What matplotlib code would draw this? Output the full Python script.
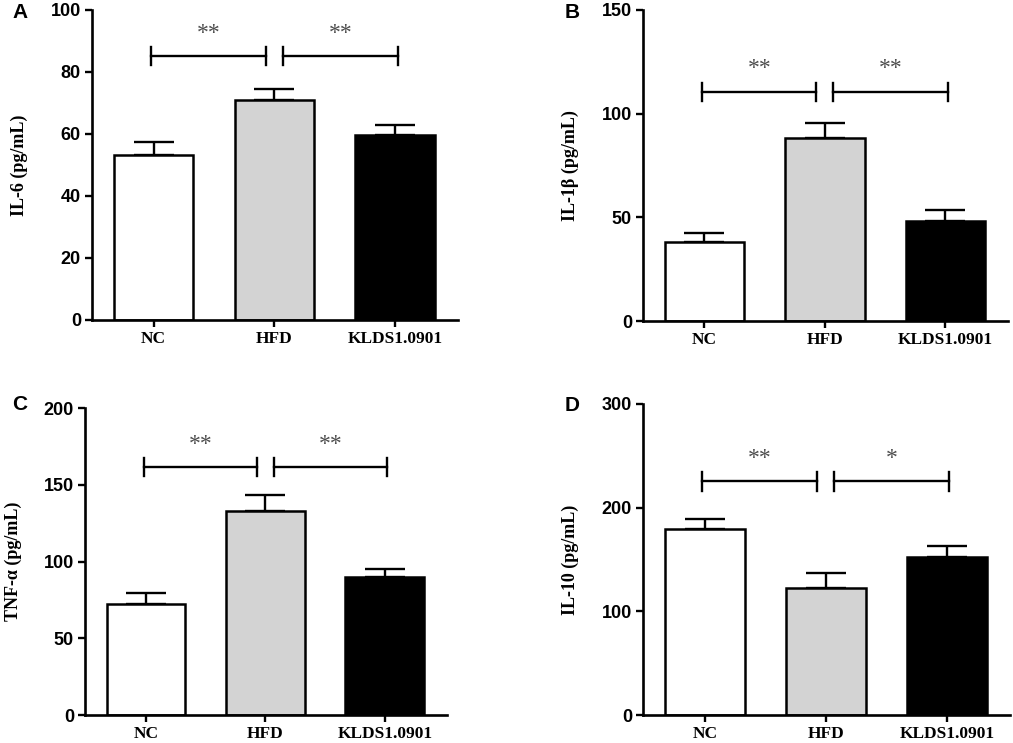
import matplotlib
matplotlib.use('Agg')
import matplotlib.pyplot as plt

# groups shared by all panels
groups = ['NC', 'HFD', 'KLDS1.0901']
bar_colors = ['white', '#d3d3d3', 'black']

# panel data: means and upper error (SEM)
il6_mean = [53.1, 71.0, 59.6]
il6_err = [4.3, 3.5, 3.3]
il1b_mean = [38.3, 88.4, 48.4]
il1b_err = [4.3, 7.3, 5.3]
tnf_mean = [72.4, 133.2, 90.2]
tnf_err = [6.9, 10.1, 5.0]
il10_mean = [179.9, 122.3, 152.3]
il10_err = [9.1, 14.8, 10.3]

panels = [
    ('A', 'IL-6 (pg/mL)', il6_mean, il6_err, 100, 20, 85.1, ['**', '**']),
    ('B', 'IL-1\u03b2 (pg/mL)', il1b_mean, il1b_err, 150, 50, 110.5, ['**', '**']),
    ('C', 'TNF-\u03b1 (pg/mL)', tnf_mean, tnf_err, 200, 50, 161.7, ['**', '**']),
    ('D', 'IL-10 (pg/mL)', il10_mean, il10_err, 300, 100, 225.3, ['**', '*']),
]

W, H = 1013, 743
# axes boxes in pixels: left, right, top, bottom
boxes = [(92, 458, 10, 320), (643, 1008, 10, 321),
         (85, 447, 408, 715), (643, 1010, 404, 715)]
letter_pos = [(20, 13), (572, 12), (20, 405), (572, 406)]

fig = plt.figure(figsize=(W / 100, H / 100), dpi=100)

for (letter, ylab, mean, err, ymax, step, bry, stars), box, lp in zip(panels, boxes, letter_pos):
    l, r, t, b = box
    ax = fig.add_axes([l / W, 1 - b / H, (r - l) / W, (b - t) / H])
    x = list(range(len(groups)))
    ax.bar(x, mean, width=0.66, color=bar_colors, edgecolor='black', linewidth=1.8, zorder=2)
    ax.errorbar(x, mean, yerr=[[0] * 3, err], fmt='none', ecolor='black',
                elinewidth=1.7, capsize=14.5, capthick=1.7, zorder=1)
    ax.set_xlim(-0.51, 2.52)
    ax.set_ylim(0, ymax)
    ax.set_yticks(range(0, ymax + 1, step))
    ax.set_xticks(x)
    ax.set_xticklabels(groups, fontfamily='Liberation Serif', fontweight='bold', fontsize=12.5)
    for lab in ax.get_yticklabels():
        lab.set_fontfamily('Liberation Sans')
        lab.set_fontweight('bold')
        lab.set_fontsize(13)
    ax.tick_params(axis='both', direction='out', length=5, width=1.7, colors='black')
    ax.tick_params(axis='x', pad=3)
    ax.tick_params(axis='y', pad=3)
    for s in ['top', 'right']:
        ax.spines[s].set_visible(False)
    for s in ['left', 'bottom']:
        ax.spines[s].set_linewidth(1.9)
    ax.set_ylabel(ylab, fontfamily='Liberation Serif', fontweight='bold', fontsize=13)
    ax.yaxis.set_label_coords(-0.175, 0.5)

    # significance brackets
    cap = ymax * 0.03
    for (x0, x1), st in zip([(-0.02, 0.93), (1.07, 2.02)], stars):
        ax.plot([x0, x1], [bry, bry], color='black', lw=1.7, clip_on=False)
        ax.plot([x0, x0], [bry - cap, bry + cap], color='black', lw=1.7, clip_on=False)
        ax.plot([x1, x1], [bry - cap, bry + cap], color='black', lw=1.7, clip_on=False)
        ax.text((x0 + x1) / 2, bry + ymax * 0.04, st, ha='center', va='bottom',
                fontsize=17, color='#4d4d4d', fontfamily='Liberation Serif')

    fig.text(lp[0] / W, 1 - lp[1] / H, letter, ha='center', va='center',
             fontsize=15, fontweight='bold', fontfamily='Liberation Sans')

fig.savefig('out.png', dpi=100)
